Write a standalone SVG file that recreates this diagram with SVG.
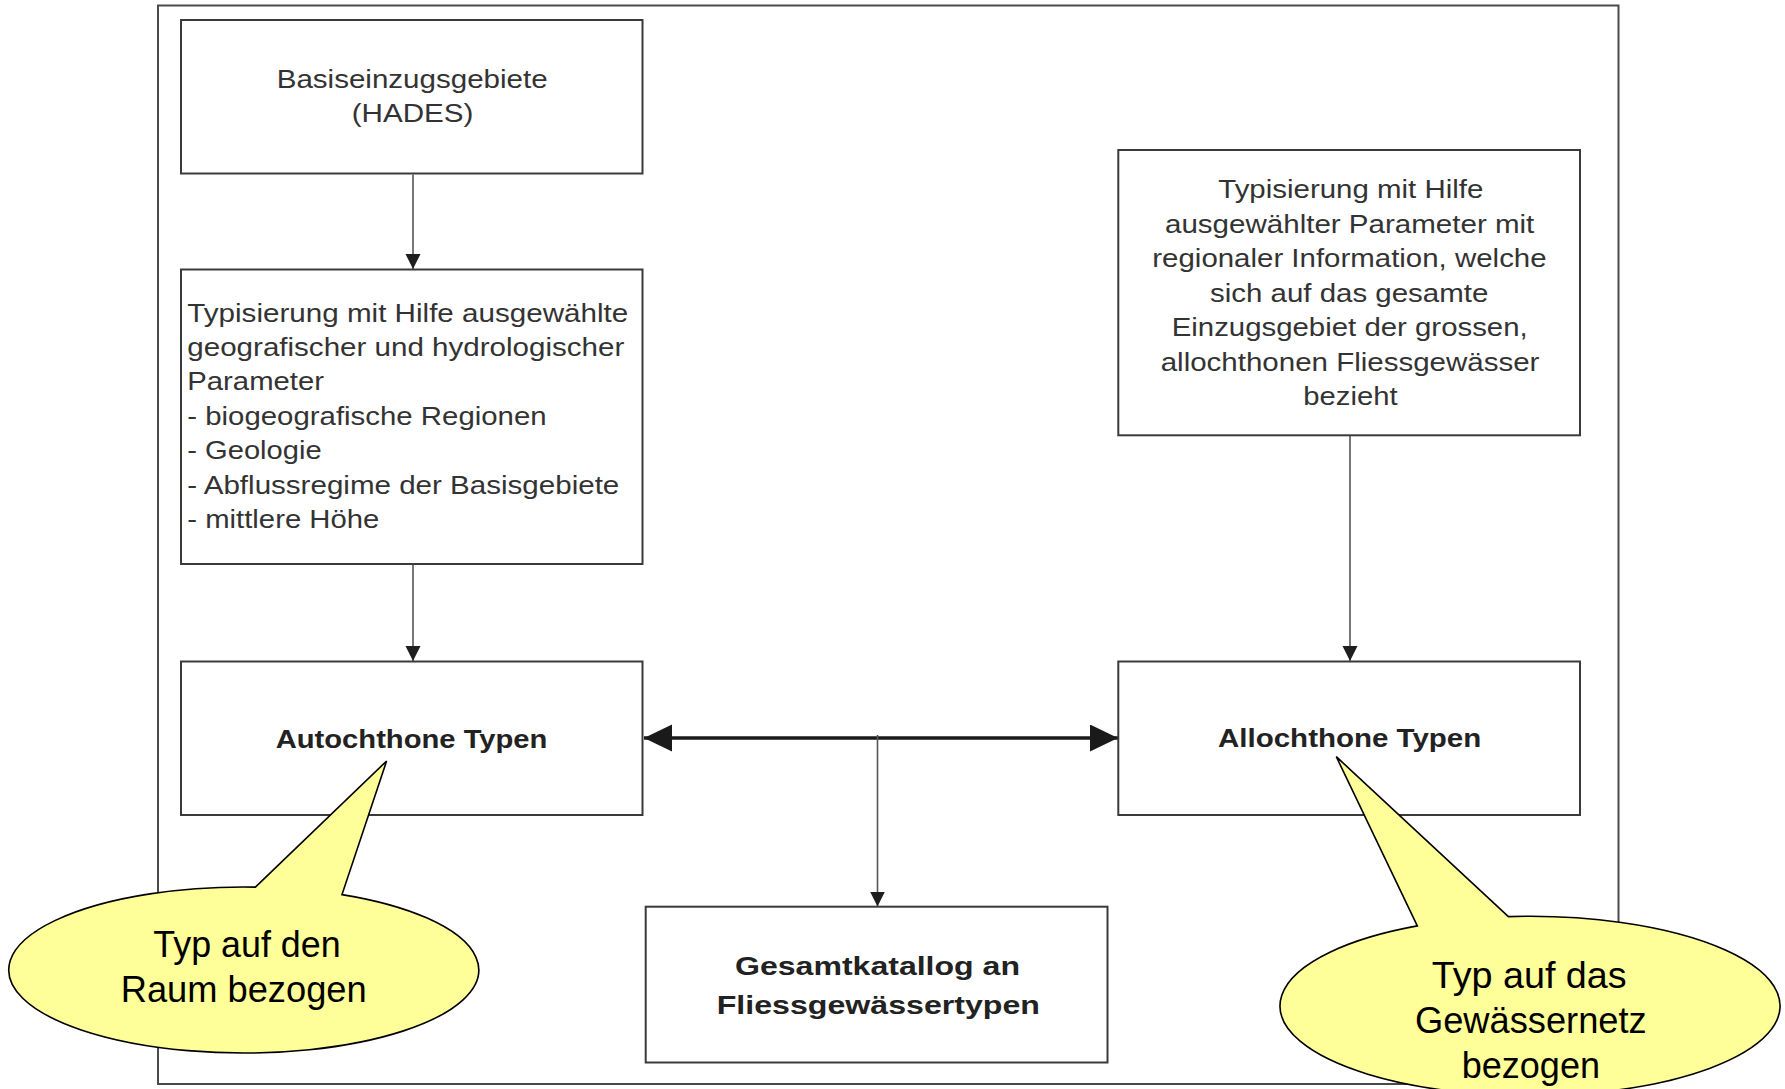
<svg xmlns="http://www.w3.org/2000/svg" width="1785" height="1089" viewBox="0 0 1785 1089">
<style>
.frame{fill:none;stroke:#4a4a4a;stroke-width:2}
.box{fill:#ffffff;stroke:#3a3a3a;stroke-width:2}
.t{font-family:"Liberation Sans",Arial,sans-serif;font-size:26.5px;fill:#333}
.b{font-family:"Liberation Sans",Arial,sans-serif;font-size:25px;font-weight:bold;fill:#222}
.c{font-family:"Liberation Sans",Arial,sans-serif;font-size:36px;fill:#000}
.thin{fill:none;stroke:#555;stroke-width:1.6}
.thick{fill:none;stroke:#1a1a1a;stroke-width:3.6}
.callout{fill:#ffff99;stroke:#000;stroke-width:1.6;stroke-linejoin:miter}
</style>
<defs>
<marker id="ah" markerUnits="userSpaceOnUse" markerWidth="16" markerHeight="16" refX="15" refY="7.5" orient="auto">
<path d="M0,0 L15,7.5 L0,15 Z" fill="#1e1e1e"/>
</marker>
<marker id="ahBig" markerUnits="userSpaceOnUse" markerWidth="30" markerHeight="28" refX="28" refY="13.5" orient="auto-start-reverse">
<path d="M0,0 L28,13.5 L0,27 Z" fill="#1a1a1a"/>
</marker>
</defs>
<rect width="1785" height="1089" fill="#ffffff"/>
<rect class="frame" x="158" y="5.5" width="1460.5" height="1078.5"/>

<g id="connectors">
<line class="thin" x1="413" y1="174.5" x2="413" y2="269" marker-end="url(#ah)"/>
<line class="thin" x1="413" y1="565" x2="413" y2="661" marker-end="url(#ah)"/>
<line class="thin" x1="1350" y1="436" x2="1350" y2="661" marker-end="url(#ah)"/>
<line class="thick" x1="644" y1="738" x2="1118" y2="738" marker-start="url(#ahBig)" marker-end="url(#ahBig)"/>
<line class="thin" x1="877.5" y1="735" x2="877.5" y2="906.5" marker-end="url(#ah)"/>
</g>

<g id="basis">
<rect class="box" x="181" y="20" width="461.5" height="153.5"/>
<text class="t" x="276.7" y="88" textLength="271" lengthAdjust="spacingAndGlyphs">Basiseinzugsgebiete</text>
<text class="t" x="351.7" y="122" textLength="121.7" lengthAdjust="spacingAndGlyphs">(HADES)</text>
</g>

<g id="typ-geo">
<rect class="box" x="181" y="269.5" width="461.5" height="294.5"/>
<text class="t" x="187.3" y="321.5" textLength="441" lengthAdjust="spacingAndGlyphs">Typisierung mit Hilfe ausgewählte</text>
<text class="t" x="187.3" y="355.9" textLength="437" lengthAdjust="spacingAndGlyphs">geografischer und hydrologischer</text>
<text class="t" x="187.3" y="390.3" textLength="136.7" lengthAdjust="spacingAndGlyphs">Parameter</text>
<text class="t" x="187.3" y="425" textLength="359.3" lengthAdjust="spacingAndGlyphs">- biogeografische Regionen</text>
<text class="t" x="187.3" y="459.3" textLength="134.3" lengthAdjust="spacingAndGlyphs">- Geologie</text>
<text class="t" x="187.3" y="493.7" textLength="432" lengthAdjust="spacingAndGlyphs">- Abflussregime der Basisgebiete</text>
<text class="t" x="187.3" y="528.1" textLength="192" lengthAdjust="spacingAndGlyphs">- mittlere Höhe</text>
</g>

<g id="typ-reg">
<rect class="box" x="1118.3" y="150" width="461.7" height="285.3"/>
<text class="t" x="1218.3" y="197.8" textLength="265" lengthAdjust="spacingAndGlyphs">Typisierung mit Hilfe</text>
<text class="t" x="1165" y="232.5" textLength="369.3" lengthAdjust="spacingAndGlyphs">ausgewählter Parameter mit</text>
<text class="t" x="1152.3" y="267.2" textLength="394.3" lengthAdjust="spacingAndGlyphs">regionaler Information, welche</text>
<text class="t" x="1210" y="301.7" textLength="278.3" lengthAdjust="spacingAndGlyphs">sich auf das gesamte</text>
<text class="t" x="1171.7" y="336.2" textLength="356" lengthAdjust="spacingAndGlyphs">Einzugsgebiet der grossen,</text>
<text class="t" x="1160.7" y="370.5" textLength="378.7" lengthAdjust="spacingAndGlyphs">allochthonen Fliessgewässer</text>
<text class="t" x="1303.3" y="404.5" textLength="94.3" lengthAdjust="spacingAndGlyphs">bezieht</text>
</g>

<g id="autochthon">
<rect class="box" x="181" y="661.5" width="461.5" height="153.5"/>
<text class="b" x="275.7" y="747.8" textLength="271.7" lengthAdjust="spacingAndGlyphs">Autochthone Typen</text>
</g>

<g id="allochthon">
<rect class="box" x="1118.3" y="661.5" width="461.7" height="153.5"/>
<text class="b" x="1218" y="747.3" textLength="263.3" lengthAdjust="spacingAndGlyphs">Allochthone Typen</text>
</g>

<g id="gesamt">
<rect class="box" x="645.7" y="906.7" width="461.8" height="155.8"/>
<text class="b" x="735" y="974.8" textLength="285" lengthAdjust="spacingAndGlyphs">Gesamtkatallog an</text>
<text class="b" x="716.7" y="1014" textLength="323.3" lengthAdjust="spacingAndGlyphs">Fliessgewässertypen</text>
</g>

<g id="callout-raum">
<path class="callout" d="M255.4,887.1 L386.6,761 L342,894.6 A235,83 0 1 1 255.4,887.1 Z"/>
<text class="c" x="153.3" y="956.5" textLength="187.3" lengthAdjust="spacingAndGlyphs">Typ auf den</text>
<text class="c" x="120.7" y="1002" textLength="246" lengthAdjust="spacingAndGlyphs">Raum bezogen</text>
</g>

<g id="callout-netz">
<path class="callout" d="M1417.3,925.9 L1336.3,756.7 L1508.4,916.6 A250,89.7 0 1 1 1417.3,925.9 Z"/>
<text class="c" x="1431.7" y="988" textLength="195" lengthAdjust="spacingAndGlyphs">Typ auf das</text>
<text class="c" x="1415" y="1033" textLength="231.7" lengthAdjust="spacingAndGlyphs">Gewässernetz</text>
<text class="c" x="1461.7" y="1078" textLength="138.3" lengthAdjust="spacingAndGlyphs">bezogen</text>
</g>
</svg>
